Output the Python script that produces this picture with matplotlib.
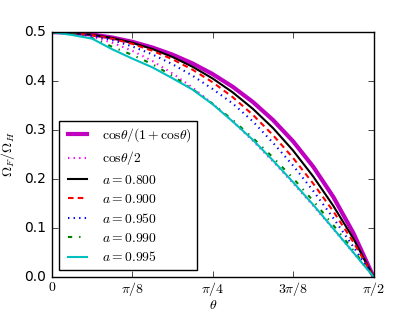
import numpy as np
import matplotlib
matplotlib.use('Agg')
import matplotlib.pyplot as plt

plt.style.use('classic')
plt.rcParams['mathtext.fontset'] = 'cm'

theta = np.pi / 32 * np.arange(17)

cos_over_1pcos = [0.5, 0.4988, 0.4951, 0.4890, 0.4802, 0.4686, 0.4540, 0.4360, 0.4142,
                  0.3882, 0.3572, 0.3204, 0.2768, 0.2250, 0.1633, 0.0893, 0.0]
cos_half = [0.5, 0.4976, 0.4904, 0.4785, 0.4619, 0.4410, 0.4157, 0.3865, 0.3536,
            0.3172, 0.2778, 0.2357, 0.1913, 0.1451, 0.0975, 0.0490, 0.0]
a_800 = [0.5, 0.4986, 0.4946, 0.4880, 0.4783, 0.4655, 0.4492, 0.4292, 0.4052,
         0.3768, 0.3432, 0.3040, 0.2580, 0.2050, 0.1450, 0.0780, 0.0]
a_900 = [0.5, 0.4985, 0.4940, 0.4865, 0.4760, 0.4620, 0.4445, 0.4232, 0.3975,
         0.3670, 0.3310, 0.2895, 0.2428, 0.1905, 0.1338, 0.0707, 0.0]
a_950 = [0.5, 0.4982, 0.4927, 0.4838, 0.4708, 0.4545, 0.4345, 0.4110, 0.3837,
         0.3540, 0.3175, 0.2738, 0.2272, 0.1755, 0.1199, 0.0611, 0.0]
a_990 = [0.5, 0.4960, 0.4880, 0.4700, 0.4535, 0.4345, 0.4107, 0.3835, 0.3536,
         0.3202, 0.2838, 0.2437, 0.2013, 0.1551, 0.1055, 0.0540, 0.0]
a_995 = [0.5, 0.4942, 0.4867, 0.4650, 0.4460, 0.4280, 0.4057, 0.3825, 0.3526,
         0.3172, 0.2798, 0.2377, 0.1933, 0.1471, 0.0985, 0.0495, 0.0]

xticks = [0, np.pi / 8, np.pi / 4, 3 * np.pi / 8, np.pi / 2]
xticklabels = [r'$0$', r'$\pi/8$', r'$\pi/4$', r'$3\pi/8$', r'$\pi/2$']

fig, ax = plt.subplots(figsize=(4.15, 3.12), dpi=100)
fig.subplots_adjust(left=0.125, right=0.9, bottom=0.113, top=0.897)

ax.plot(theta, cos_over_1pcos, color='m', lw=3,
        label=r'$\mathrm{cos}\theta/(1+\mathrm{cos}\theta)$')
ax.plot(theta, cos_half, color='magenta', ls=':', lw=1.5, label=r'$\mathrm{cos}\theta/2$')
ax.plot(theta, a_800, 'k-', lw=1.5, label=r'$a=0.800$')
ax.plot(theta, a_900, 'r--', lw=1.5, dashes=(4, 3), label=r'$a=0.900$')
ax.plot(theta, a_950, 'b:', lw=1.5, label=r'$a=0.950$')
ax.plot(theta, a_990, 'g-.', lw=1.5, label=r'$a=0.990$')
ax.plot(theta, a_995, 'c-', lw=1.5, label=r'$a=0.995$')

ax.set_xlim(0, np.pi / 2)
ax.set_ylim(0, 0.5)
ax.set_xticks(xticks)
ax.set_xticklabels(xticklabels, fontsize=10)
ax.set_yticks([0.0, 0.1, 0.2, 0.3, 0.4, 0.5])
ax.tick_params(axis='y', labelsize=10)
ax.tick_params(axis='x', pad=2)

ax.set_xlabel(r'$\theta$', fontsize=10, labelpad=0)
ax.set_ylabel(r'$\Omega_F/\Omega_H$', fontsize=10)

ax.legend(loc='lower left', fontsize=9.8, handlelength=2.0, labelspacing=0.4)

fig.savefig('out.png', dpi=100)
